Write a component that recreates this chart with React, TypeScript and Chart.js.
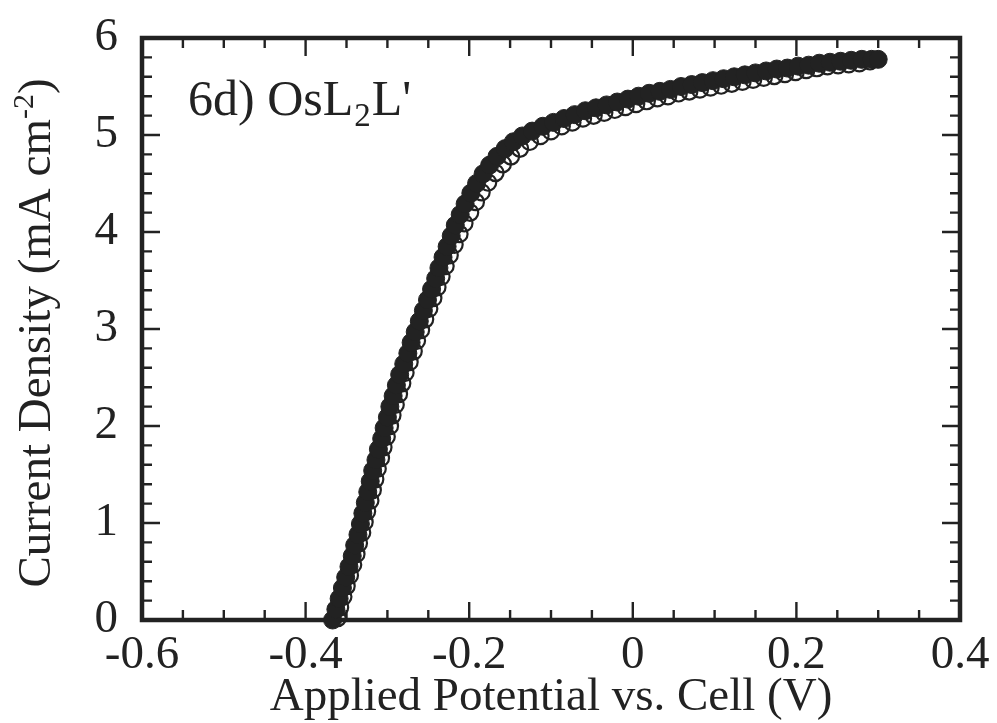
import React, { useEffect, useRef } from "react";
import { Chart, registerables } from "chart.js";

Chart.register(...registerables);

// Filled-circle series (potential in V, current density in mA cm^-2)
const filledX = [
  -0.367, -0.363, -0.359, -0.355, -0.351, -0.347, -0.343, -0.340, -0.336, -0.333,
  -0.330, -0.327, -0.324, -0.321, -0.318, -0.314, -0.311, -0.307, -0.304, -0.300,
  -0.297, -0.293, -0.289, -0.285, -0.280, -0.275, -0.271, -0.266, -0.261, -0.256,
  -0.251, -0.246, -0.241, -0.237, -0.232, -0.227, -0.222, -0.217, -0.211, -0.205,
  -0.198, -0.191, -0.183, -0.175, -0.166, -0.156, -0.146, -0.135, -0.123, -0.110,
  -0.097, -0.084, -0.071, -0.058, -0.045, -0.032, -0.019, -0.006, 0.007, 0.020,
  0.033, 0.046, 0.059, 0.072, 0.085, 0.098, 0.111, 0.124, 0.137, 0.150,
  0.163, 0.176, 0.189, 0.202, 0.215, 0.228, 0.241, 0.254, 0.267, 0.280, 0.292, 0.300,
];
const filledY = [
  0.00, 0.11, 0.22, 0.33, 0.44, 0.55, 0.66, 0.77, 0.88, 0.99,
  1.10, 1.21, 1.32, 1.43, 1.54, 1.65, 1.76, 1.87, 1.98, 2.09,
  2.20, 2.31, 2.42, 2.53, 2.64, 2.75, 2.86, 2.97, 3.08, 3.19,
  3.30, 3.41, 3.52, 3.63, 3.74, 3.85, 3.96, 4.07, 4.18, 4.29,
  4.40, 4.50, 4.60, 4.69, 4.78, 4.86, 4.93, 4.99, 5.04, 5.09,
  5.13, 5.17, 5.21, 5.25, 5.28, 5.31, 5.34, 5.37, 5.40, 5.43,
  5.45, 5.47, 5.50, 5.52, 5.54, 5.56, 5.58, 5.60, 5.62, 5.64,
  5.66, 5.68, 5.69, 5.71, 5.72, 5.74, 5.75, 5.76, 5.77, 5.78, 5.78, 5.78,
];

// Open-circle series
const openX = [
  -0.361, -0.358, -0.354, -0.350, -0.346, -0.342, -0.338, -0.335, -0.331, -0.328,
  -0.325, -0.321, -0.318, -0.315, -0.312, -0.308, -0.305, -0.301, -0.297, -0.294,
  -0.290, -0.286, -0.282, -0.278, -0.273, -0.268, -0.264, -0.259, -0.254, -0.249,
  -0.244, -0.239, -0.234, -0.229, -0.224, -0.218, -0.212, -0.206, -0.199, -0.192,
  -0.185, -0.177, -0.168, -0.159, -0.149, -0.138, -0.126, -0.113, -0.100, -0.087,
  -0.074, -0.061, -0.048, -0.035, -0.022, -0.009, 0.004, 0.017, 0.030, 0.043,
  0.056, 0.069, 0.082, 0.095, 0.108, 0.121, 0.134, 0.147, 0.160, 0.173,
  0.186, 0.199, 0.212, 0.225, 0.238, 0.251, 0.264, 0.277, 0.290,
];
const openY = [
  0.02, 0.13, 0.24, 0.35, 0.46, 0.57, 0.68, 0.79, 0.90, 1.01,
  1.12, 1.23, 1.34, 1.45, 1.56, 1.67, 1.78, 1.89, 2.00, 2.11,
  2.22, 2.33, 2.44, 2.55, 2.66, 2.77, 2.88, 2.99, 3.10, 3.21,
  3.32, 3.43, 3.54, 3.65, 3.76, 3.87, 3.98, 4.09, 4.20, 4.31,
  4.41, 4.51, 4.61, 4.70, 4.78, 4.86, 4.93, 4.99, 5.04, 5.09,
  5.13, 5.17, 5.20, 5.23, 5.26, 5.29, 5.32, 5.35, 5.38, 5.40,
  5.43, 5.45, 5.47, 5.49, 5.51, 5.53, 5.55, 5.57, 5.59, 5.61,
  5.63, 5.65, 5.67, 5.69, 5.71, 5.72, 5.73, 5.74, 5.76,
];

const xTickValues = [-0.6, -0.4, -0.2, 0, 0.2, 0.4];
const xTickLabels = ["-0.6", "-0.4", "-0.2", "0", "0.2", "0.4"];
const yTickValues = [0, 1, 2, 3, 4, 5, 6];
const yTickLabels = ["0", "1", "2", "3", "4", "5", "6"];

const xTitle = "Applied Potential vs. Cell (V)";
const yTitleParts = ["Current Density (mA cm", "-2", ")"];
const panelLabelParts = ["6d) OsL", "2", "L'"];

const INK = "#222222";
const FONT = "'Liberation Serif', 'Times New Roman', serif";

function labelFor(values: number[], labels: string[], v: number) {
  const i = values.findIndex((t) => Math.abs(t - v) < 1e-9);
  return i >= 0 ? labels[i] : "";
}

const framePlugin = {
  id: "frameTicks",
  beforeDatasetsDraw(chart: any) {
    const { ctx, chartArea: a, scales } = chart;
    const xs = scales.x;
    const ys = scales.y;
    ctx.save();
    ctx.strokeStyle = INK;
    ctx.lineCap = "butt";
    ctx.lineWidth = 2.4;
    for (let k = 1; k < 20; k++) {
      const v = -0.6 + k * 0.05;
      const major = k % 4 === 0;
      const len = major ? 18 : 10;
      const px = xs.getPixelForValue(v);
      ctx.beginPath();
      ctx.moveTo(px, a.bottom);
      ctx.lineTo(px, a.bottom - len);
      ctx.moveTo(px, a.top);
      ctx.lineTo(px, a.top + len);
      ctx.stroke();
    }
    for (let k = 1; k < 30; k++) {
      const v = k * 0.2;
      const major = k % 5 === 0;
      const len = major ? 18 : 10;
      const py = ys.getPixelForValue(v);
      ctx.beginPath();
      ctx.moveTo(a.left, py);
      ctx.lineTo(a.left + len, py);
      ctx.moveTo(a.right, py);
      ctx.lineTo(a.right - len, py);
      ctx.stroke();
    }
    ctx.lineWidth = 4.5;
    ctx.strokeRect(a.left, a.top, a.right - a.left, a.bottom - a.top);
    ctx.restore();
  },
  afterDraw(chart: any) {
    const { ctx, chartArea: a } = chart;
    ctx.save();
    ctx.fillStyle = INK;
    ctx.textBaseline = "alphabetic";
    // x title
    ctx.font = `47px ${FONT}`;
    ctx.textAlign = "center";
    ctx.fillText(xTitle, (a.left + a.right) / 2, 710);
    // y title (rotated, with superscript)
    const mainFont = `47px ${FONT}`;
    const supFont = `30px ${FONT}`;
    ctx.font = mainFont;
    const w0 = ctx.measureText(yTitleParts[0]).width;
    const w2 = ctx.measureText(yTitleParts[2]).width;
    ctx.font = supFont;
    const w1 = ctx.measureText(yTitleParts[1]).width;
    const total = w0 + w1 + w2;
    ctx.translate(50, (a.top + a.bottom) / 2 + 4);
    ctx.rotate(-Math.PI / 2);
    ctx.textAlign = "left";
    let x0 = -total / 2;
    ctx.font = mainFont;
    ctx.fillText(yTitleParts[0], x0, 0);
    x0 += w0;
    ctx.font = supFont;
    ctx.fillText(yTitleParts[1], x0, -17);
    x0 += w1;
    ctx.font = mainFont;
    ctx.fillText(yTitleParts[2], x0, 0);
    ctx.setTransform(1, 0, 0, 1, 0, 0);
    // panel label with subscript
    const lx = 188;
    const ly = 115;
    ctx.textAlign = "left";
    ctx.font = `50px ${FONT}`;
    ctx.fillText(panelLabelParts[0], lx, ly);
    const p0 = ctx.measureText(panelLabelParts[0]).width;
    ctx.font = `33px ${FONT}`;
    ctx.fillText(panelLabelParts[1], lx + p0 + 1, ly + 11);
    const p1 = ctx.measureText(panelLabelParts[1]).width;
    ctx.font = `50px ${FONT}`;
    ctx.fillText(panelLabelParts[2], lx + p0 + p1 + 2, ly);
    ctx.restore();
  },
};

export default function App() {
  const ref = useRef<HTMLCanvasElement | null>(null);
  useEffect(() => {
    if (!ref.current) return;
    const filled = filledX.map((x, i) => ({ x, y: filledY[i] }));
    const open = openX.map((x, i) => ({ x, y: openY[i] }));
    const chart = new Chart(ref.current, {
      type: "scatter",
      data: {
        datasets: [
          {
            label: "filled",
            data: filled,
            pointRadius: 9,
            pointBackgroundColor: INK,
            pointBorderColor: INK,
            pointBorderWidth: 1,
            showLine: false,
            clip: false as any,
          },
          {
            label: "open",
            data: open,
            pointRadius: 8.2,
            pointBackgroundColor: "rgba(0,0,0,0)",
            pointBorderColor: INK,
            pointBorderWidth: 2.2,
            showLine: false,
            clip: false as any,
          },
        ],
      },
      options: {
        animation: false,
        responsive: true,
        maintainAspectRatio: false,
        events: [],
        layout: { padding: { top: 38, right: 37, left: 0, bottom: 0 } },
        plugins: {
          legend: { display: false },
          tooltip: { enabled: false },
          title: { display: false },
        },
        scales: {
          x: {
            type: "linear",
            min: -0.6,
            max: 0.4,
            grid: { display: false, drawTicks: false },
            border: { display: false },
            afterBuildTicks: (s: any) => {
              s.ticks = xTickValues.map((v) => ({ value: v }));
            },
            afterFit: (s: any) => {
              s.height = 103;
              s.paddingLeft = 0;
              s.paddingRight = 0;
            },
            ticks: {
              autoSkip: false,
              maxRotation: 0,
              padding: 7,
              color: INK,
              font: { family: FONT, size: 47 },
              callback: (v: any) => labelFor(xTickValues, xTickLabels, Number(v)),
            },
          },
          y: {
            type: "linear",
            min: 0,
            max: 6,
            grid: { display: false, drawTicks: false },
            border: { display: false },
            afterBuildTicks: (s: any) => {
              s.ticks = yTickValues.map((v) => ({ value: v }));
            },
            afterFit: (s: any) => {
              s.width = 142;
              s.paddingTop = 0;
              s.paddingBottom = 0;
            },
            ticks: {
              autoSkip: false,
              padding: 24,
              color: INK,
              font: { family: FONT, size: 47 },
              callback: (v: any) => labelFor(yTickValues, yTickLabels, Number(v)),
            },
          },
        },
      },
      plugins: [framePlugin],
    });
    return () => chart.destroy();
  }, []);
  return (
    <div style={{ position: "absolute", left: 0, top: 0, width: 997, height: 723, background: "#fff" }}>
      <canvas ref={ref} style={{ display: "block" }} />
    </div>
  );
}
